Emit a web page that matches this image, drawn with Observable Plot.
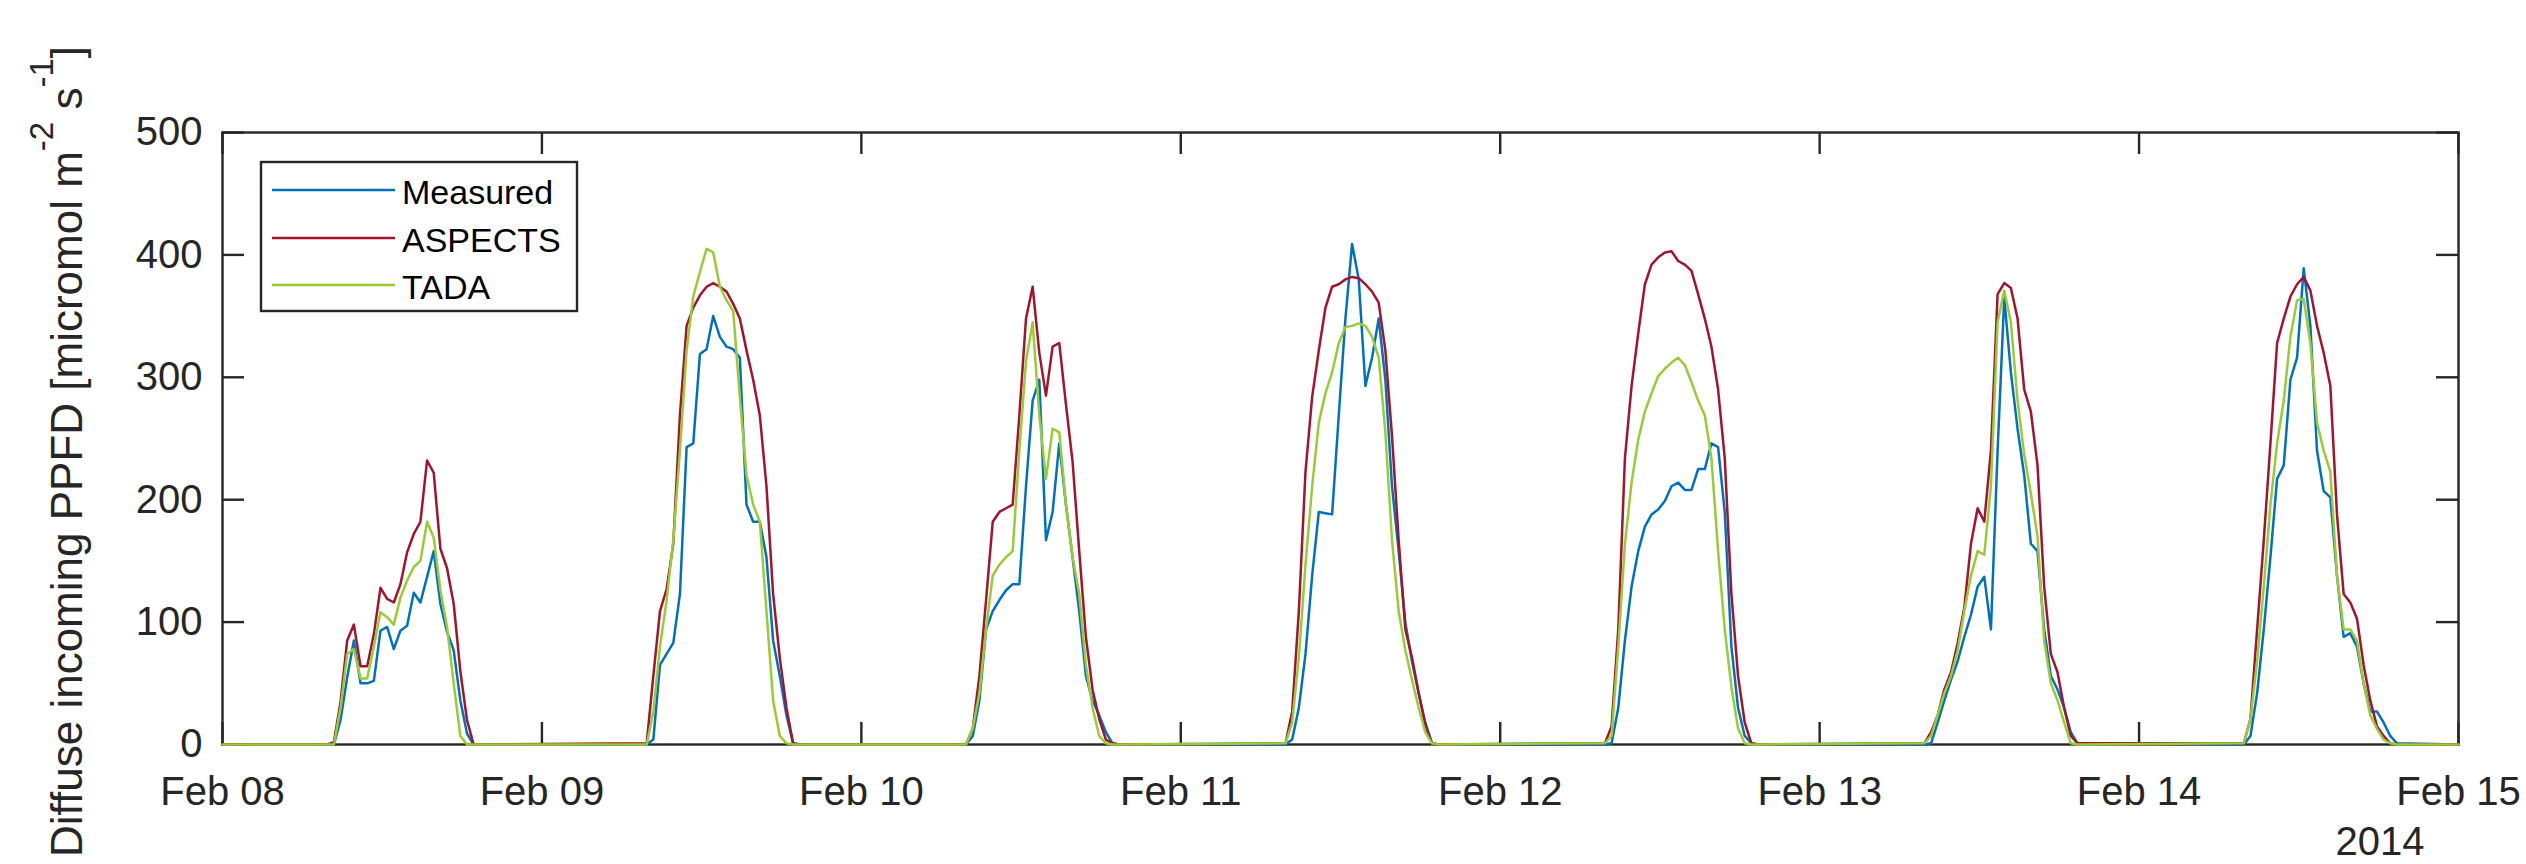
<!DOCTYPE html>
<html>
<head>
<meta charset="utf-8">
<script src="https://cdn.jsdelivr.net/npm/d3@7"></script>
<script src="https://cdn.jsdelivr.net/npm/@observablehq/plot@0.6"></script>
<style>
  html, body { margin: 0; padding: 0; background: #fff; }
  #chart { width: 2526px; height: 864px; overflow: hidden; }
</style>
</head>
<body>
<div id="chart"></div>
<script>
// ---------------- data ----------------
const seriesNames  = ["Measured", "ASPECTS", "TADA"];
const seriesColors = ["#0072BD", "#A2142F", "#99CC33"];
const yTicks = [0, 100, 200, 300, 400, 500];
const xTickLabels = ["Feb 08", "Feb 09", "Feb 10", "Feb 11", "Feb 12", "Feb 13", "Feb 14", "Feb 15"];
const yearLabel = "2014";
const yLabelMain = "Diffuse incoming PPFD [micromol m";

// half-hourly sample times (hour of day) for the daylight part of each day
const slotHours = [7.87, 8.37, 8.87, 9.37, 9.87, 10.37, 10.87, 11.37, 11.87, 12.37, 12.87, 13.37,
                   13.87, 14.37, 14.87, 15.37, 15.87, 16.37, 16.87, 17.37, 17.87, 18.37, 18.87, 19.37];
// nights are zero: first and last hour of the week
const nightBounds = [0, 168];

// Measured (one row per day, Feb 08 .. Feb 14)
const measured = [
  [0, 0, 20, 55, 85, 50, 50, 52, 93, 96, 78, 93, 97, 124, 116, 137, 158, 115, 92, 77, 36, 9, 0, 0],
  [0, 4, 65, 74, 83, 123, 243, 246, 319, 323, 350, 333, 325, 323, 316, 196, 182, 182, 153, 85, 56, 24, 1, 0],
  [0, 7, 36, 94, 109, 118, 126, 131, 131, 211, 281, 298, 167, 190, 246, 196, 153, 109, 56, 36, 24, 10, 1, 0],
  [0, 4, 30, 74, 138, 190, 189, 188, 269, 348, 409, 380, 293, 316, 348, 298, 211, 158, 100, 68, 42, 18, 1, 0],
  [0, 1, 30, 85, 129, 158, 178, 188, 192, 199, 211, 214, 208, 208, 225, 225, 246, 243, 190, 80, 30, 7, 1, 0],
  [0, 1, 18, 36, 53, 68, 88, 106, 129, 137, 94, 240, 365, 304, 258, 220, 164, 158, 94, 56, 45, 30, 10, 1],
  [0, 7, 42, 94, 153, 217, 228, 298, 316, 389, 342, 240, 207, 202, 138, 88, 91, 80, 50, 27, 27, 18, 7, 1]
];
// ASPECTS
const aspects = [
  [0, 2, 35, 85, 98, 64, 64, 90, 128, 119, 116, 131, 157, 172, 182, 232, 222, 160, 144, 115, 60, 20, 0, 0],
  [1, 56, 109, 127, 164, 269, 342, 357, 367, 374, 377, 374, 370, 360, 348, 322, 298, 269, 211, 123, 71, 30, 1, 0],
  [0, 13, 56, 118, 182, 190, 193, 196, 269, 348, 374, 320, 285, 325, 328, 278, 231, 158, 88, 45, 21, 4, 1, 0],
  [1, 27, 109, 223, 284, 322, 357, 374, 376, 380, 382, 381, 376, 370, 361, 322, 252, 167, 94, 71, 42, 16, 1, 0],
  [1, 15, 94, 234, 293, 336, 376, 392, 398, 402, 403, 395, 392, 387, 368, 348, 325, 290, 234, 123, 56, 18, 1, 0],
  [1, 10, 24, 45, 59, 83, 112, 164, 193, 182, 240, 368, 377, 373, 348, 290, 272, 228, 129, 74, 59, 30, 7, 1],
  [1, 21, 94, 167, 246, 328, 348, 366, 376, 382, 371, 342, 320, 293, 188, 123, 116, 103, 65, 36, 15, 7, 1, 0]
];
// TADA
const tada = [
  [0, 0, 30, 74, 78, 54, 54, 80, 108, 104, 98, 120, 134, 145, 150, 182, 169, 126, 96, 50, 7, 0, 0, 0],
  [0, 27, 80, 118, 167, 240, 322, 366, 386, 405, 402, 374, 363, 354, 284, 220, 196, 182, 109, 36, 7, 1, 0, 0],
  [0, 13, 42, 94, 138, 147, 153, 158, 240, 313, 345, 269, 217, 258, 255, 196, 153, 123, 65, 30, 7, 1, 0, 0],
  [1, 18, 71, 147, 211, 263, 287, 304, 328, 341, 342, 344, 342, 333, 316, 255, 167, 109, 77, 53, 30, 10, 1, 0],
  [1, 7, 80, 164, 214, 249, 272, 287, 301, 307, 312, 316, 310, 296, 281, 269, 234, 158, 94, 47, 13, 1, 0, 0],
  [1, 7, 24, 42, 56, 77, 109, 138, 158, 155, 211, 345, 371, 345, 281, 237, 205, 170, 85, 50, 36, 18, 1, 0],
  [1, 21, 68, 129, 196, 246, 281, 333, 363, 364, 328, 263, 240, 223, 138, 94, 94, 85, 50, 24, 13, 4, 1, 0]
];

// ---------------- build ----------------
const t0 = Date.UTC(2014, 1, 8);
const toDate = h => new Date(t0 + h * 3600e3);

function rowsFor(days) {
  const rows = [{t: toDate(nightBounds[0]), v: 0}];
  days.forEach((vals, d) => vals.forEach((v, k) => rows.push({t: toDate(d * 24 + slotHours[k]), v})));
  rows.push({t: toDate(nightBounds[1]), v: 0});
  return rows;
}
const seriesData = [measured, aspects, tada].map(rowsFor);

const xTickDates = xTickLabels.map((_, i) => toDate(i * 24));
const labelOf = new Map(xTickDates.map((d, i) => [+d, xTickLabels[i]]));

const W = 2526, H = 864;
const mL = 222, mR = 68, mT = 132, mB = 120;
const plotW = W - mL - mR, plotH = H - mT - mB;
const tickLen = 22;
const axisColor = "#262626";
const axisW = 2.4;
const lineW = 2.5;

const chart = Plot.plot({
  width: W, height: H,
  marginLeft: mL, marginRight: mR, marginTop: mT, marginBottom: mB,
  style: {fontFamily: "'Liberation Sans', Arial, Helvetica, sans-serif", fontSize: "40px",
          color: axisColor, background: "#fff", overflow: "visible"},
  x: {type: "utc", domain: [xTickDates[0], xTickDates[xTickDates.length - 1]],
      ticks: xTickDates, tickFormat: d => labelOf.get(+d), tickSize: 0, tickPadding: 32, label: null},
  y: {domain: [yTicks[0], yTicks[yTicks.length - 1]], ticks: yTicks, tickSize: 0, tickPadding: 20, label: null},
  marks: [
    Plot.frame({stroke: axisColor, strokeWidth: axisW}),
    Plot.ruleY(yTicks, {y: d => d, insetRight: plotW - tickLen, stroke: axisColor, strokeWidth: axisW}),
    Plot.ruleY(yTicks, {y: d => d, insetLeft: plotW - tickLen, stroke: axisColor, strokeWidth: axisW}),
    Plot.ruleX(xTickDates, {x: d => d, insetTop: plotH - tickLen, stroke: axisColor, strokeWidth: axisW}),
    Plot.ruleX(xTickDates, {x: d => d, insetBottom: plotH - tickLen, stroke: axisColor, strokeWidth: axisW}),
    ...seriesData.map((rows, i) => Plot.line(rows, {x: "t", y: "v", stroke: seriesColors[i],
                                                     strokeWidth: lineW, strokeLinejoin: "round"}))
  ]
});
document.getElementById("chart").appendChild(chart);

// ---------------- extra text: y label, year, legend ----------------
const svg = d3.select(chart);
const font = "'Liberation Sans', Arial, Helvetica, sans-serif";

const yl = svg.append("text")
  .attr("transform", "translate(82,46) rotate(-90)")
  .attr("text-anchor", "end")
  .attr("font-family", font).attr("font-size", 44).attr("fill", axisColor);
yl.append("tspan").text(yLabelMain);
yl.append("tspan").attr("dy", -29).attr("font-size", 33).text("-2");
yl.append("tspan").attr("dy", 29).text(" s");
yl.append("tspan").attr("dy", -29).attr("font-size", 33).text("-1");
yl.append("tspan").attr("dy", 29).text("]");

svg.append("text").attr("x", 2380).attr("y", 855).attr("text-anchor", "middle")
  .attr("font-family", font).attr("font-size", 40).attr("fill", axisColor).text(yearLabel);

const lg = svg.append("g");
lg.append("rect").attr("x", 261).attr("y", 162).attr("width", 316).attr("height", 149)
  .attr("fill", "#fff").attr("stroke", axisColor).attr("stroke-width", axisW);
const rowY = [190, 238, 285];
seriesNames.forEach((name, i) => {
  lg.append("line").attr("x1", 272).attr("x2", 395).attr("y1", rowY[i]).attr("y2", rowY[i])
    .attr("stroke", seriesColors[i]).attr("stroke-width", lineW);
  lg.append("text").attr("x", 402).attr("y", rowY[i] + 14).attr("text-anchor", "start")
    .attr("font-family", font).attr("font-size", 34).attr("fill", "#000").text(name);
});
</script>
</body>
</html>
